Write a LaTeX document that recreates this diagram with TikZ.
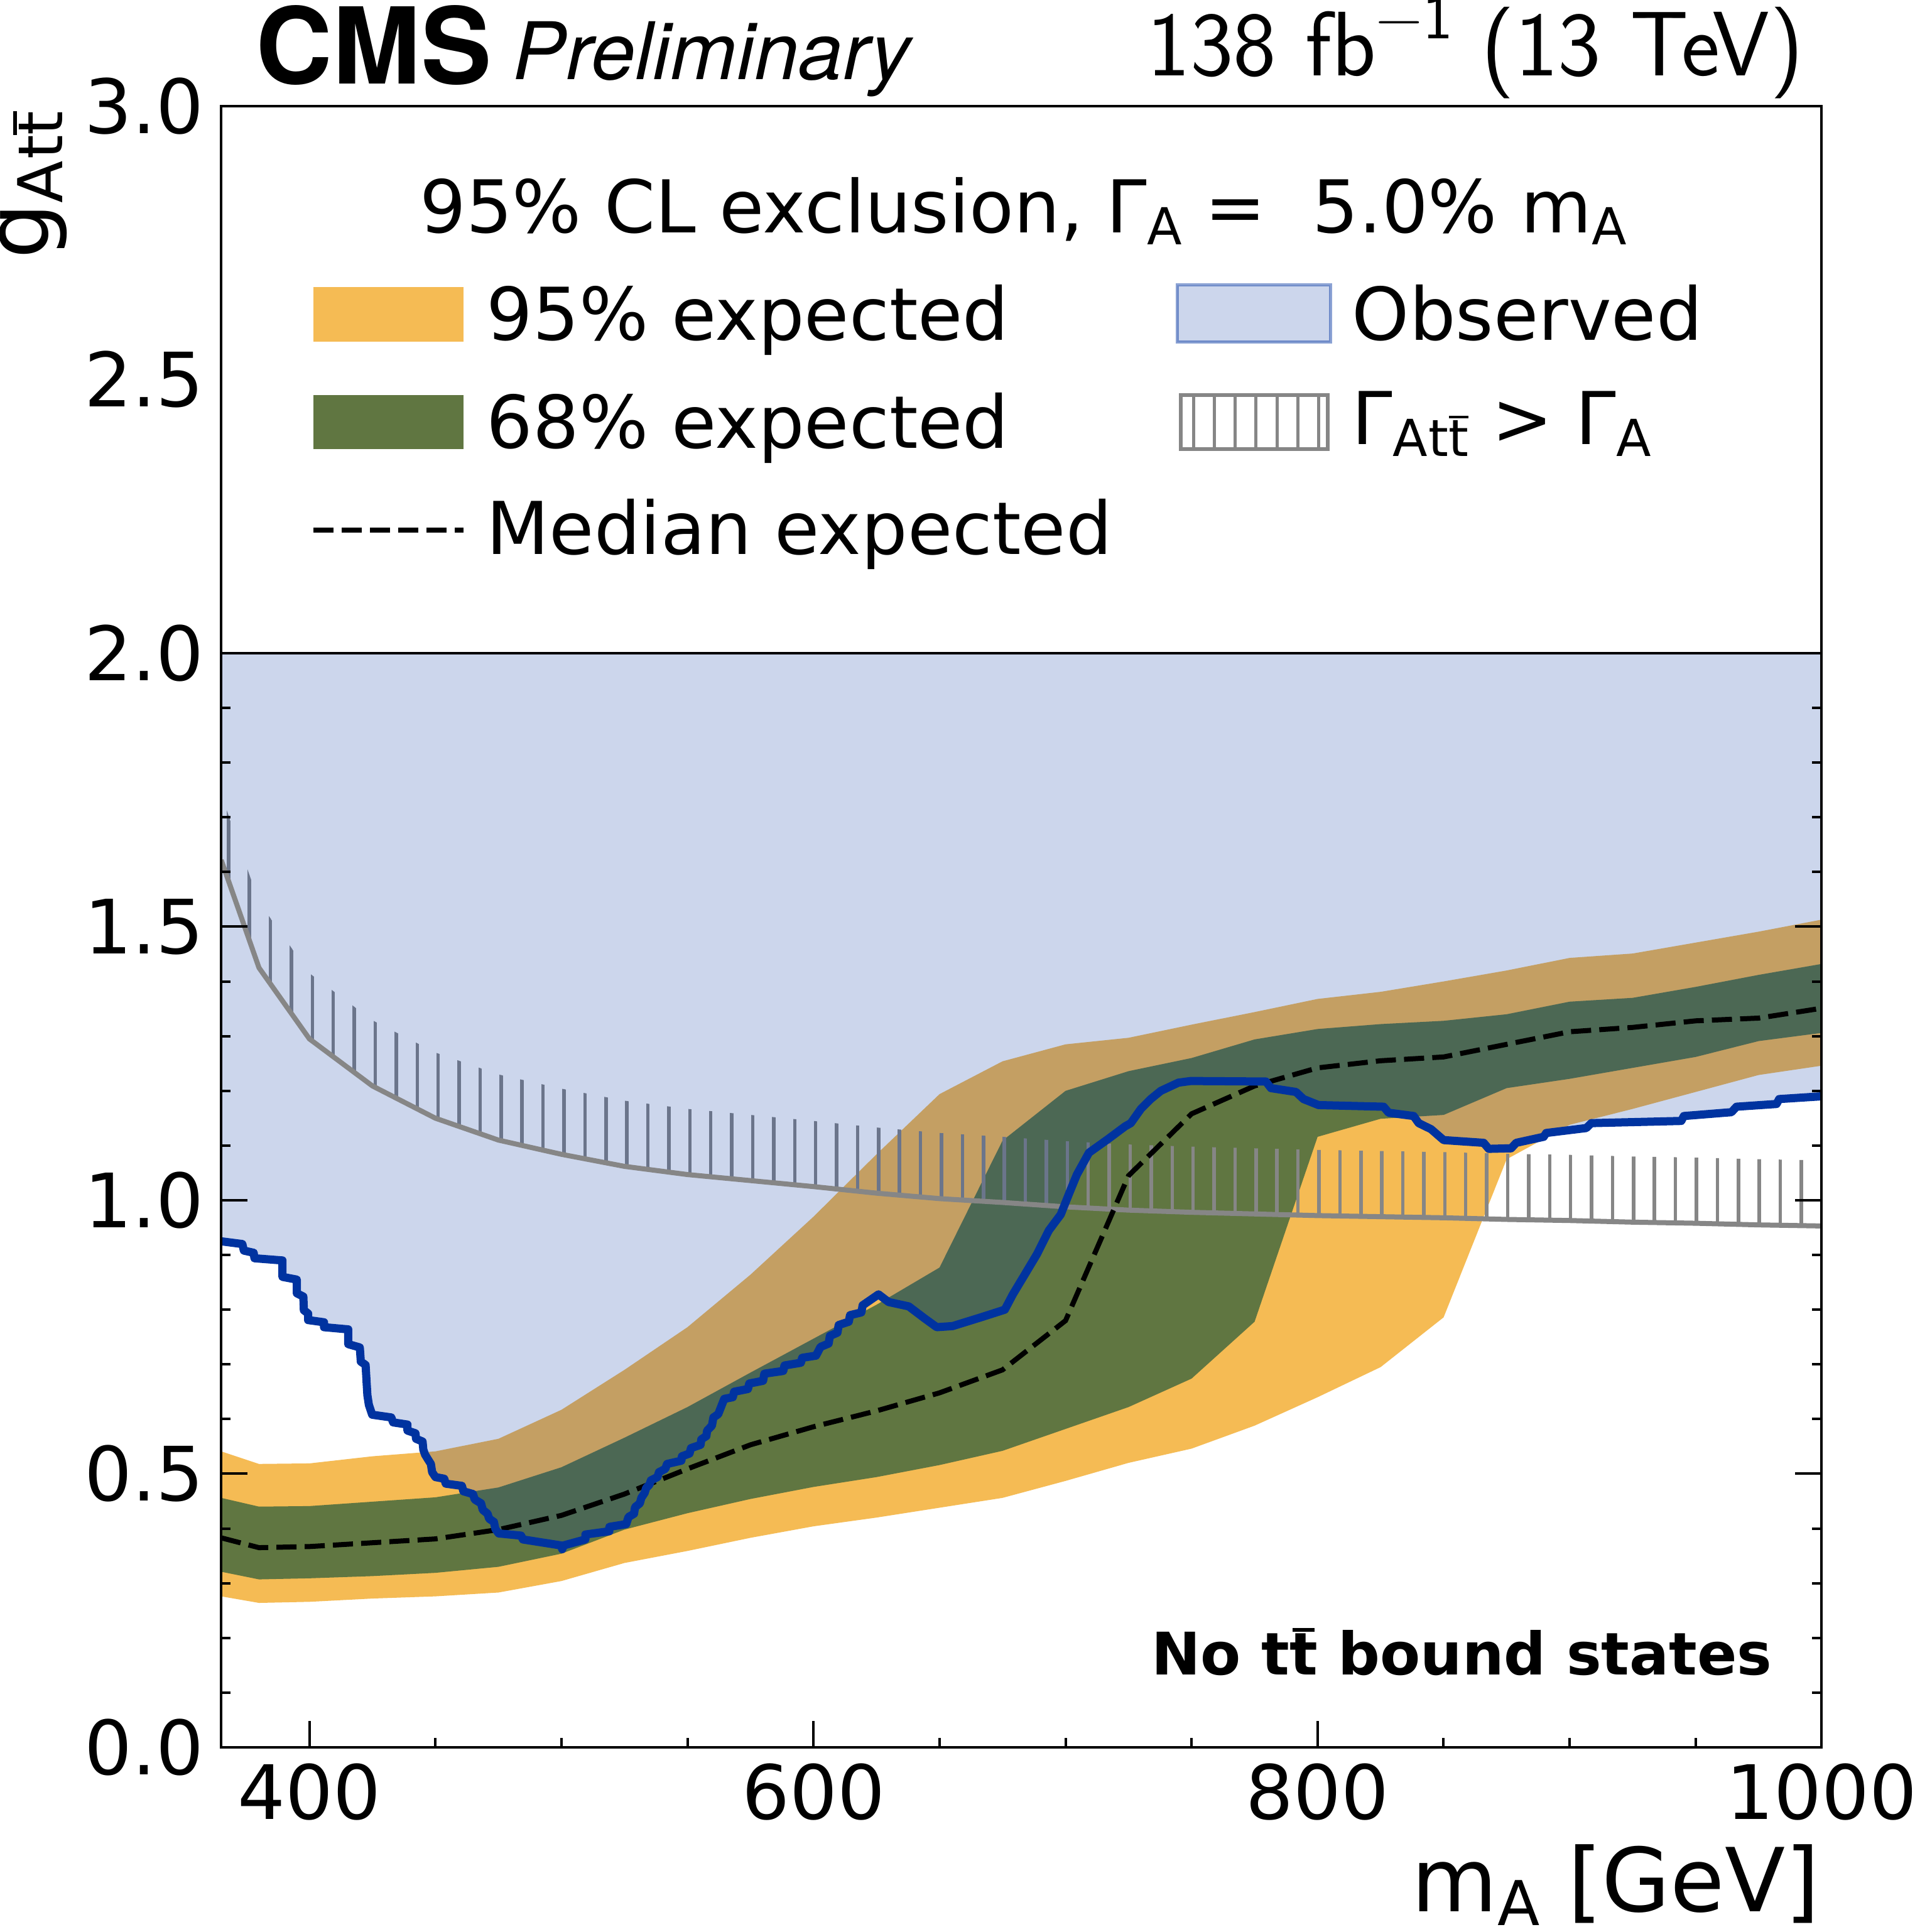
\documentclass[tikz,border=0pt]{standalone}
\usepackage{fontspec}
\setmainfont{DejaVu Sans}
\newfontfamily\heros{TeX Gyre Heros}
\definecolor{c95}{HTML}{F5BB54}
\definecolor{c68}{HTML}{607641}
\definecolor{obs}{HTML}{0033A0}
\definecolor{wgray}{RGB}{134,134,134}
\makeatletter
\newcommand\sbx[1]{\raisebox{-0.16em}{\fontsize{\fpeval{0.7*\f@size}}{1}\selectfont #1}}
\newcommand\spx[1]{\raisebox{0.41em}{\fontsize{\fpeval{0.7*\f@size}}{1}\selectfont #1}}
\makeatother
\newcommand\tb{\leavevmode\rlap{t}\makebox[\fontcharwd\font`\t]{\rule[0.74em]{0.38em}{0.06em}}}
\tikzset{
  frameline/.style={line width=0.04cm},
  tickline/.style={line width=0.04cm},
  ticklab/.style={inner sep=0pt, font=\fontsize{34}{40}\selectfont},
  legtext/.style={inner sep=0pt, anchor=base west, font=\fontsize{33}{39}\selectfont},
  axlab/.style={inner sep=0pt, font=\fontsize{40}{46}\selectfont},
  medline/.style={line width=0.08cm, dash pattern=on 0.32cm off 0.13cm},
  obsline/.style={obs, line width=0.13cm, line join=round},
  hatchline/.style={wgray, line width=0.055cm},
  widthline/.style={wgray, line width=0.08cm, line join=round},
}
\def\obspath{(365,0.925) -- (373.4,0.920) -- (374,0.908) -- (377.9,0.904) -- (378.2,0.894) -- (389.3,0.890) -- (389.3,0.860) -- (395,0.855) -- (395,0.830) -- (397.6,0.824) -- (397.8,0.799) -- (399.5,0.793) -- (399.5,0.781) -- (405.8,0.777) -- (405.8,0.768) -- (415.4,0.764) -- (415.4,0.737) -- (420,0.731) -- (420.4,0.705) -- (422.3,0.699) -- (422.7,0.667) -- (423,0.644) -- (423.6,0.626) -- (424.9,0.608) -- (432.5,0.603) -- (433.2,0.594) -- (438.9,0.590) -- (438.9,0.579) -- (442.1,0.574) -- (442.3,0.564) -- (444.9,0.559) -- (445.2,0.544) -- (445.9,0.535) -- (447.1,0.526) -- (448.2,0.518) -- (448.7,0.503) -- (450,0.494) -- (453.5,0.491) -- (454.1,0.482) -- (460.5,0.478) -- (461.1,0.468) -- (464.9,0.463) -- (465.6,0.453) -- (468.1,0.446) -- (468.8,0.434) -- (470.7,0.427) -- (471.3,0.418) -- (473.2,0.412) -- (473.8,0.399) -- (475.1,0.391) -- (484,0.387) -- (484.7,0.380) -- (499.9,0.369) -- (500.3,0.362) -- (500.8,0.369) -- (509.5,0.380) -- (509.5,0.389) -- (519,0.395) -- (519,0.403) -- (525.7,0.408) -- (526.6,0.421) -- (528.8,0.427) -- (529.2,0.439) -- (531.1,0.446) -- (531.7,0.456) -- (533,0.465) -- (533.6,0.474) -- (534.9,0.480) -- (535.5,0.488) -- (538.1,0.494) -- (538.7,0.503) -- (541.2,0.509) -- (541.9,0.518) -- (547.6,0.524) -- (547.8,0.532) -- (550.8,0.537) -- (551.4,0.547) -- (555.2,0.553) -- (555.5,0.563) -- (557.5,0.569) -- (557.8,0.579) -- (559.7,0.588) -- (560.3,0.603) -- (562.2,0.609) -- (563.9,0.629) -- (564.6,0.637) -- (568,0.640) -- (568.5,0.650) -- (574,0.655) -- (574.5,0.665) -- (580,0.670) -- (580.5,0.683) -- (588,0.688) -- (588.5,0.698) -- (595,0.703) -- (595.5,0.712) -- (601,0.716) -- (602.8,0.732) -- (606,0.738) -- (606.5,0.752) -- (609.5,0.758) -- (610,0.772) -- (614,0.778) -- (614.5,0.790) -- (619,0.795) -- (619.5,0.808) -- (625.8,0.828) -- (629.8,0.814) -- (637.8,0.806) -- (644.1,0.784) -- (648.9,0.768) -- (655.2,0.770) -- (666.4,0.786) -- (675.9,0.800) -- (679.1,0.828) -- (683.8,0.864) -- (688.6,0.901) -- (693.4,0.945) -- (698.1,0.974) -- (701.3,1.011) -- (704.5,1.047) -- (709.3,1.087) -- (717.2,1.113) -- (723.6,1.135) -- (725.9,1.141) -- (729.9,1.167) -- (733.8,1.185) -- (737.8,1.200) -- (744.8,1.215) -- (749.7,1.218) -- (779.5,1.217) -- (781.5,1.205) -- (791.4,1.198) -- (794.4,1.185) -- (800.4,1.174) -- (826.2,1.171) -- (828.2,1.160) -- (838.1,1.154) -- (840.1,1.141) -- (845,1.130) -- (850,1.110) -- (865.9,1.105) -- (867.9,1.094) -- (876.8,1.095) -- (878.8,1.105) -- (889.7,1.116) -- (890.7,1.123) -- (906.6,1.132) -- (908.6,1.141) -- (944.3,1.145) -- (945.3,1.154) -- (964.2,1.161) -- (966.2,1.171) -- (982.1,1.176) -- (983.1,1.185) -- (1000,1.190)}
\begin{document}
\begin{tikzpicture}
\useasboundingbox (0,0) rectangle (30.49,30.76);
\fill[white] (0,0) rectangle (30.49,30.76);
\begin{scope}[x=0.040126cm,y=8.71cm,shift={(-11.126cm,2.94cm)}]
  \begin{scope}
    \clip (365,0) rectangle (1000,2);
    % 95% band
    \fill[c95] plot coordinates {(365,0.276) (380,0.264) (400,0.266) (425,0.272) (450,0.276) (475,0.283) (500,0.304) (525,0.337) (550,0.359) (575,0.383) (600,0.404) (625,0.420) (650,0.438) (675,0.456) (700,0.487) (725,0.520) (750,0.546) (775,0.588) (800,0.640) (825,0.695) (850,0.786) (875,1.075) (900,1.138) (925,1.167) (950,1.198) (975,1.229) (1000,1.246)}
      -- plot coordinates {(1000,1.513) (975,1.491) (950,1.471) (925,1.451) (900,1.443) (875,1.420) (850,1.400) (825,1.381) (800,1.368) (775,1.344) (750,1.321) (725,1.297) (700,1.285) (675,1.254) (650,1.194) (625,1.084) (600,0.970) (575,0.864) (550,0.768) (525,0.690) (500,0.617) (475,0.564) (450,0.541) (425,0.532) (400,0.519) (380,0.518) (365,0.541)} -- cycle;
    % 68% band
    \fill[c68] plot coordinates {(365,0.321) (380,0.307) (400,0.309) (425,0.313) (450,0.319) (475,0.330) (500,0.354) (525,0.398) (550,0.428) (575,0.454) (600,0.476) (625,0.494) (650,0.516) (675,0.542) (700,0.582) (725,0.622) (750,0.674) (775,0.778) (800,1.116) (825,1.149) (850,1.156) (875,1.205) (900,1.222) (925,1.242) (950,1.262) (975,1.291) (1000,1.306)}
      -- plot coordinates {(1000,1.432) (975,1.412) (950,1.390) (925,1.370) (900,1.363) (875,1.340) (850,1.328) (825,1.322) (800,1.313) (775,1.294) (750,1.260) (725,1.236) (700,1.200) (675,1.109) (650,0.877) (625,0.809) (600,0.747) (575,0.685) (550,0.622) (525,0.566) (500,0.512) (475,0.475) (450,0.457) (425,0.449) (400,0.441) (380,0.440) (365,0.456)} -- cycle;
    % hatch of width condition
    \begin{scope}
      \clip plot coordinates {(365,1.622) (380,1.425) (400,1.295) (425,1.209) (450,1.150) (475,1.110) (500,1.084) (525,1.062) (550,1.047) (575,1.036) (600,1.025) (625,1.013) (650,1.003) (675,0.996) (700,0.988) (725,0.982) (750,0.978) (775,0.975) (800,0.972) (825,0.970) (850,0.968) (875,0.965) (900,0.963) (925,0.960) (950,0.958) (975,0.955) (1000,0.953)}
        -- plot coordinates {(1000,1.073) (975,1.075) (950,1.078) (925,1.080) (900,1.083) (875,1.085) (850,1.088) (825,1.090) (800,1.092) (775,1.095) (750,1.098) (725,1.102) (700,1.108) (675,1.116) (650,1.123) (625,1.133) (600,1.145) (575,1.156) (550,1.167) (525,1.182) (500,1.204) (475,1.230) (450,1.270) (425,1.329) (400,1.415) (380,1.545) (365,1.742)} -- cycle;
      \foreach \k in {0,...,76} { \draw[hatchline] ({367.9+8.32*\k},0.9) -- ++(0,0.9); }
    \end{scope}
    % observed excluded region
    \fill[obs, fill opacity=0.2] \obspath -- (1000,2) -- (365,2) -- cycle;
    % width curve
    \draw[widthline] plot coordinates {(365,1.622) (380,1.425) (400,1.295) (425,1.209) (450,1.150) (475,1.110) (500,1.084) (525,1.062) (550,1.047) (575,1.036) (600,1.025) (625,1.013) (650,1.003) (675,0.996) (700,0.988) (725,0.982) (750,0.978) (775,0.975) (800,0.972) (825,0.970) (850,0.968) (875,0.965) (900,0.963) (925,0.960) (950,0.958) (975,0.955) (1000,0.953)};
    % median expected
    \draw[medline] plot coordinates {(365,0.383) (380,0.365) (400,0.367) (425,0.374) (450,0.381) (475,0.398) (500,0.424) (525,0.463) (550,0.509) (575,0.553) (600,0.586) (625,0.615) (650,0.648) (675,0.690) (700,0.780) (725,1.045) (750,1.158) (775,1.209) (800,1.242) (825,1.255) (850,1.262) (875,1.285) (900,1.308) (925,1.316) (950,1.328) (975,1.333) (1000,1.351)};
    % observed line
    \draw[obsline] \obspath;
  \end{scope}
  % ticks
  \foreach \i in {0,...,20} {
    \draw[tickline] (365,\i/10) -- ++(0.15cm,0);
    \draw[tickline] (1000,\i/10) -- ++(-0.15cm,0);
  }
  \foreach \i in {0,5,...,20} {
    \draw[tickline] (365,\i/10) -- ++(0.42cm,0);
    \draw[tickline] (1000,\i/10) -- ++(-0.42cm,0);
  }
  \foreach \m in {450,500,550,650,700,750,850,900,950} { \draw[tickline] (\m,0) -- ++(0,0.15cm); }
  \foreach \m in {400,600,800} { \draw[tickline] (\m,0) -- ++(0,0.42cm); }
  % frame
  \draw[frameline] (365,2) -- (1000,2);
  \draw[frameline] (365,0) rectangle (1000,3);
  % tick labels
  \node[ticklab, anchor=east, xshift=-0.27cm] (y00) at (365,0) {0.0};
  \node[ticklab, anchor=east, xshift=-0.27cm] (y05) at (365,0.5) {0.5};
  \node[ticklab, anchor=east, xshift=-0.27cm] (y10) at (365,1) {1.0};
  \node[ticklab, anchor=east, xshift=-0.27cm] (y15) at (365,1.5) {1.5};
  \node[ticklab, anchor=east, xshift=-0.27cm] (y20) at (365,2) {2.0};
  \node[ticklab, anchor=east, xshift=-0.27cm] (y25) at (365,2.5) {2.5};
  \node[ticklab, anchor=east, xshift=-0.27cm] (y30) at (365,3) {3.0};
  \node[ticklab, anchor=north, yshift=-0.25cm] (x400) at (400,0) {400};
  \node[ticklab, anchor=north, yshift=-0.25cm] (x600) at (600,0) {600};
  \node[ticklab, anchor=north, yshift=-0.25cm] (x800) at (800,0) {800};
  \node[ticklab, anchor=north, yshift=-0.25cm] (x1000) at (1000,0) {1000};
\end{scope}
% axis labels
\node[axlab, anchor=base east] (xlab) at (28.98,0.33) {m\sbx{A} [GeV]};
\node[axlab, anchor=base east, rotate=90] (ylab) at (0.77,29.0) {g\sbx{A\kern0.02em t\tb}};
% header
\node[inner sep=0pt, anchor=base west, font=\heros\bfseries\fontsize{48}{54}\selectfont] (cms) at (4.07,29.42) {CMS};
\node[inner sep=0pt, anchor=base west, font=\heros\itshape\fontsize{36}{42}\selectfont] (prelim) at (8.16,29.49) {Preliminary};
\node[inner sep=0pt, anchor=base east, font=\sffamily\fontsize{41.5}{48}\selectfont] (lumi) at (28.72,29.55) {138 fb\spx{−1} (13 TeV)};
% legend
\node[legtext, anchor=base] (ltitle) at (16.29,27.055) {95\% CL exclusion, Γ\sbx{A}\ =\ \ 5.0\%\ m\sbx{A}};
\fill[c95] (4.99,25.32) rectangle (7.38,26.19);
\node[legtext] (l95) at (7.74,25.34) {95\% expected};
\fill[c68] (4.99,23.61) rectangle (7.38,24.47);
\node[legtext] (l68) at (7.74,23.62) {68\% expected};
\coordinate (md1) at (4.99,22.32);
\coordinate (md2) at (7.38,22.32);
\draw[medline] (md1) -- (md2);
\node[legtext] (lmed) at (7.74,21.93) {Median expected};
\fill[obs, fill opacity=0.2] (18.74,25.31) rectangle (21.18,26.22);
\draw[obs, draw opacity=0.45, line width=0.05cm] (18.74,25.31) rectangle (21.18,26.22);
\node[legtext] (lobs) at (21.52,25.34) {Observed};
\draw[wgray, line width=0.06cm] (18.80,23.61) rectangle (21.14,24.47);
\foreach \k in {0,...,6} { \draw[wgray, line width=0.05cm] ({19.00+0.333*\k},23.61) -- ++(0,0.86); }
\node[legtext] (lwid) at (21.52,23.68) {Γ\sbx{A\kern0.02em t\tb}\ >\ Γ\sbx{A}};
% note
\node[inner sep=0pt, anchor=base east, font=\bfseries\fontsize{26.6}{32}\selectfont] (note) at (28.22,4.09) {No t\tb\ bound states};
\end{tikzpicture}
\end{document}
